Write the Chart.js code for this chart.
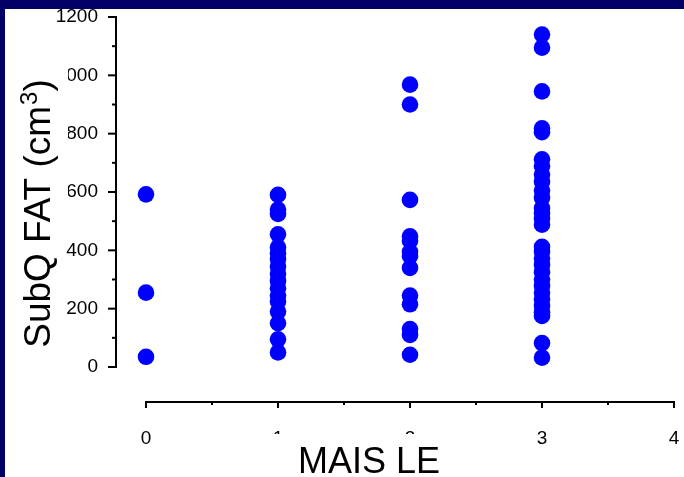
<!DOCTYPE html>
<html>
<head>
<meta charset="utf-8">
<script src="https://cdn.jsdelivr.net/npm/chart.js@4.4.1/dist/chart.umd.min.js"></script>
<style>
  html, body { margin: 0; padding: 0; background: #ffffff; }
  #wrap { width: 684px; height: 477px; position: relative; }
</style>
</head>
<body>
<div id="wrap"><canvas id="c" width="684" height="477"></canvas></div>
<script>
// MAIS lower-extremity score levels and subcutaneous fat volume (cm³) per subject
const maisLevels = [0, 1, 2, 3];
const fatLevel0 = [592, 255, 35];
const fatLevel1 = [590, 540, 525, 455, 410, 390, 370, 345, 320, 295, 270, 245, 225, 190, 150, 95, 50];
const fatLevel2 = [968, 900, 573, 448, 432, 395, 380, 340, 245, 215, 130, 110, 42];
const fatLevel3 = [1140, 1095, 945, 818, 805, 712, 688, 660, 635, 605, 580, 545, 528, 508, 488,
                   412, 395, 372, 350, 325, 300, 278, 255, 232, 210, 188, 175, 82, 32];

const yMajorTicks = [0, 200, 400, 600, 800, 1000, 1200];
const yMinorTicks = [100, 300, 500, 700, 900, 1100];
const xMajorTicks = [0, 1, 2, 3, 4];
const xMinorTicks = [0.5, 1.5, 2.5, 3.5];

const xTitle = 'MAIS LE';
const yTitleMain = 'SubQ FAT (cm';
const yTitleSup = '3';
const yTitleEnd = ')';

const FONT = "'Liberation Sans', Arial, Helvetica, sans-serif";
const NAVY = '#000066';

const points = [];
[fatLevel0, fatLevel1, fatLevel2, fatLevel3].forEach((vals, i) => {
  vals.forEach(v => points.push({ x: maisLevels[i], y: v }));
});

function noScalePadding(s) {
  s.paddingTop = 0; s.paddingBottom = 0; s.paddingLeft = 0; s.paddingRight = 0;
}

// Detached axes, tick marks, titles and the slide frame
const framePlugin = {
  id: 'frame',
  afterDraw(chart) {
    const ctx = chart.ctx;
    const xs = chart.scales.x, ys = chart.scales.y;
    const axX = chart.chartArea.left;
    const axY = chart.chartArea.bottom;
    ctx.save();
    ctx.strokeStyle = '#000';
    ctx.lineWidth = 2;
    ctx.lineCap = 'butt';

    // y axis
    ctx.beginPath();
    ctx.moveTo(axX, ys.getPixelForValue(0) + 1);
    ctx.lineTo(axX, ys.getPixelForValue(1200) - 1);
    ctx.stroke();
    yMajorTicks.forEach(v => {
      const p = ys.getPixelForValue(v);
      ctx.beginPath(); ctx.moveTo(axX - 8, p); ctx.lineTo(axX, p); ctx.stroke();
    });
    yMinorTicks.forEach(v => {
      const p = ys.getPixelForValue(v);
      ctx.beginPath(); ctx.moveTo(axX - 4, p); ctx.lineTo(axX, p); ctx.stroke();
    });

    // x axis
    ctx.beginPath();
    ctx.moveTo(xs.getPixelForValue(0) - 1, axY);
    ctx.lineTo(xs.getPixelForValue(4) + 1, axY);
    ctx.stroke();
    xMajorTicks.forEach(v => {
      const p = xs.getPixelForValue(v);
      ctx.beginPath(); ctx.moveTo(p, axY); ctx.lineTo(p, axY + 6); ctx.stroke();
    });
    xMinorTicks.forEach(v => {
      const p = xs.getPixelForValue(v);
      ctx.beginPath(); ctx.moveTo(p, axY); ctx.lineTo(p, axY + 3); ctx.stroke();
    });

    // title boxes sit over the neighbouring tick labels
    ctx.fillStyle = '#ffffff';
    ctx.fillRect(255, 434, 175, 43);
    ctx.fillRect(10, 62, 58, 140);

    ctx.fillStyle = '#000';
    ctx.font = '36px ' + FONT;
    ctx.textAlign = 'center';
    ctx.textBaseline = 'alphabetic';
    ctx.fillText(xTitle, 369, 473);

    // rotated y title with superscript
    ctx.save();
    ctx.translate(50, 214);
    ctx.rotate(-Math.PI / 2);
    ctx.textAlign = 'left';
    const big = '37px ' + FONT, small = '24px ' + FONT;
    ctx.font = big;
    const w1 = ctx.measureText(yTitleMain).width;
    const w3 = ctx.measureText(yTitleEnd).width;
    ctx.font = small;
    const w2 = ctx.measureText(yTitleSup).width;
    let x0 = -(w1 + w2 + w3) / 2;
    ctx.font = big;
    ctx.fillText(yTitleMain, x0, 0);
    ctx.font = small;
    ctx.fillText(yTitleSup, x0 + w1 + 1, -13);
    ctx.font = big;
    ctx.fillText(yTitleEnd, x0 + w1 + w2 + 1, 0);
    ctx.restore();

    // frame bands
    ctx.fillStyle = NAVY;
    ctx.fillRect(0, 0, 684, 9);
    ctx.fillRect(0, 0, 5, 477);
    ctx.restore();
  }
};

new Chart(document.getElementById('c'), {
  type: 'scatter',
  data: {
    datasets: [{
      data: points,
      backgroundColor: '#0000ff',
      borderWidth: 0,
      pointRadius: 8.3,
      pointHoverRadius: 8.3
    }]
  },
  options: {
    responsive: false,
    animation: false,
    devicePixelRatio: 1,
    events: [],
    layout: { padding: { top: 17, right: 10, left: 0, bottom: 0 } },
    plugins: { legend: { display: false }, tooltip: { enabled: false } },
    scales: {
      x: {
        type: 'linear',
        min: -0.2273,
        max: 4,
        afterBuildTicks: s => { s.ticks = xMajorTicks.map(v => ({ value: v })); },
        afterFit: s => { s.height = 75; noScalePadding(s); },
        grid: { display: false, drawTicks: false },
        border: { display: false },
        ticks: {
          autoSkip: false, maxRotation: 0, padding: 25,
          color: '#000', font: { family: FONT, size: 19 },
          callback: v => String(v)
        }
      },
      y: {
        type: 'linear',
        min: -120,
        max: 1200,
        afterBuildTicks: s => { s.ticks = yMajorTicks.map(v => ({ value: v })); },
        afterFit: s => { s.width = 116; noScalePadding(s); },
        grid: { display: false, drawTicks: false },
        border: { display: false },
        ticks: {
          autoSkip: false, padding: 18,
          color: '#000', font: { family: FONT, size: 19 },
          callback: v => String(v)
        }
      }
    }
  },
  plugins: [framePlugin]
});
</script>
</body>
</html>
